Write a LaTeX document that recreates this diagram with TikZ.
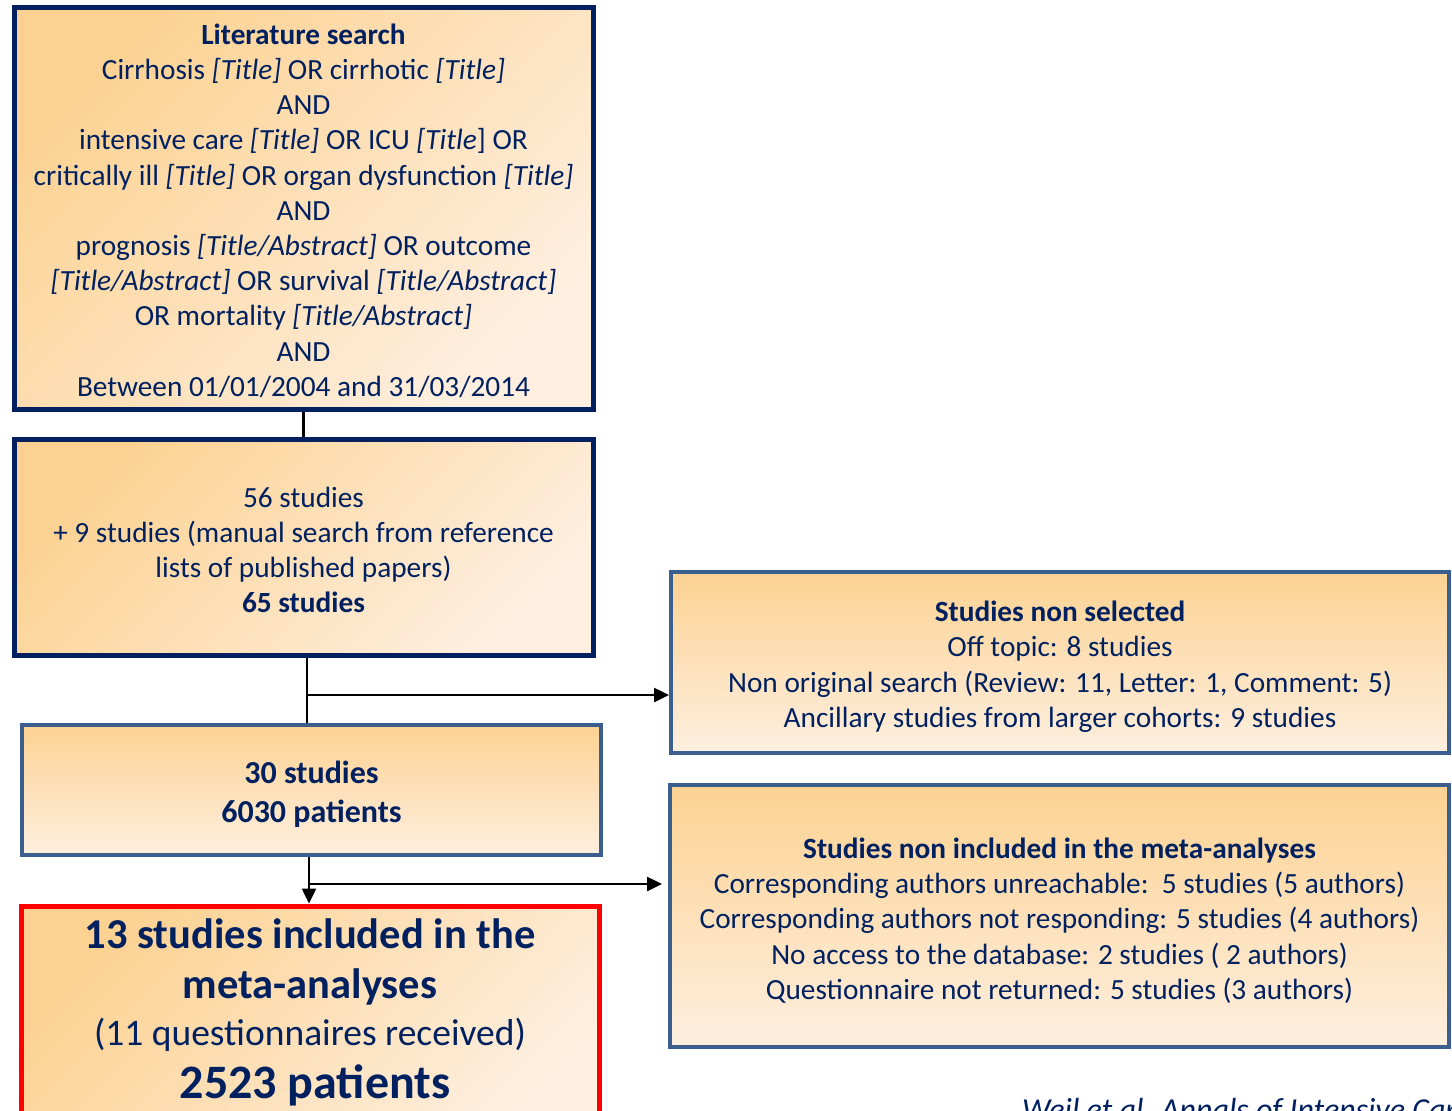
\documentclass[tikz,border=0pt]{standalone}
\usepackage{fontspec}
\setmainfont{Carlito}
\usetikzlibrary{arrows.meta}
\definecolor{navy}{HTML}{002060}
\definecolor{steel}{HTML}{3A5F8E}
\definecolor{orA}{HTML}{FCD292}
\definecolor{orB}{HTML}{FEEFE0}
\newcommand{\lowr}[1]{\rule{0pt}{#1}}
\begin{document}
\begin{tikzpicture}[x=1pt,y=-1pt,
  box/.style={draw, rectangle, inner sep=0pt, text=navy, align=center,
    font=\fontsize{29.3}{35.2}\selectfont, top color=orA, bottom color=orB},
  diag/.style={shading angle=45},
  navybox/.style={box, draw=navy, line width=5pt},
  steelbox/.style={box, draw=steel, line width=4pt},
  redbox/.style={box, draw=red, line width=5pt},
  bigtext/.style={text=navy, anchor=base, inner sep=0pt},
  conn/.style={draw=black, line width=2.5pt},
  arr/.style={conn, -{Triangle[length=15pt,width=14pt]}},
  foot/.style={text=navy, font=\fontsize{32}{36}\selectfont\itshape, inner sep=0pt}
]
\clip (0,0) rectangle (1452,1111);
\fill[white] (0,0) rectangle (1452,1111);

\node[navybox, diag, minimum width=579pt, minimum height=402pt] (b1) at (303.5,208) {%
\lowr{26pt}\textbf{Literature search}\\
Cirrhosis \textit{[Title]} OR cirrhotic \textit{[Title]}\\
AND\\
intensive care \textit{[Title]} OR ICU \textit{[Title}] OR\\
critically ill \textit{[Title]} OR organ dysfunction \textit{[Title]}\\
AND\\
prognosis \textit{[Title/Abstract]} OR outcome\\
\textit{[Title/Abstract]} OR survival \textit{[Title/Abstract]}\\
OR mortality \textit{[Title/Abstract]}\\
AND\\
Between 01/01/2004 and 31/03/2014};

\node[navybox, diag, minimum width=579pt, minimum height=216pt] (b2) at (303.5,547) {%
\lowr{26pt}56 studies\\
+ 9 studies (manual search from reference\\
lists of published papers)\\
\textbf{65 studies}};

\node[steelbox, font=\fontsize{32}{39}\selectfont\bfseries, minimum width=579pt, minimum height=130pt] (b3) at (311.5,790) {%
\lowr{31pt}30 studies\\
6030 patients};

\node[redbox, diag, minimum width=578pt, minimum height=240pt] (b4) at (310,1026) {};
\node[bigtext, font=\fontsize{42.5}{44}\selectfont\bfseries] (t1) at (310,948) {13 studies included in the};
\node[bigtext, font=\fontsize{42.5}{44}\selectfont\bfseries] (t2) at (310,998) {meta-analyses};
\node[bigtext, font=\fontsize{37.5}{40}\selectfont] (t3) at (310,1045) {(11 questionnaires received)};
\node[bigtext, font=\fontsize{48}{50}\selectfont\bfseries] (t4) at (315,1098) {2523 patients};

\node[steelbox, minimum width=778pt, minimum height=181pt] (b5) at (1060,662.5) {%
\lowr{29pt}\textbf{Studies non selected}\\
Off topic: 8 studies\\
Non original search (Review: 11, Letter: 1, Comment: 5)\\
Ancillary studies from larger cohorts: 9 studies};

\node[steelbox, minimum width=779pt, minimum height=262pt] (b6) at (1059.5,916) {%
\lowr{30pt}\textbf{Studies non included in the meta-analyses}\\
Corresponding authors unreachable:\ \ 5 studies (5 authors)\\
Corresponding authors not responding: 5 studies (4 authors)\\
No access to the database: 2 studies ( 2 authors)\\
Questionnaire not returned: 5 studies (3 authors)};

\node[foot, anchor=base west] (ft) at (1022,1120) {Weil et al. Annals of Intensive Care};

\coordinate (j1) at (307,695);
\coordinate (j2) at (309,884);
\coordinate (e2) at (662,884);

\draw[conn] (b1.south) -- (b2.north);
\draw[conn] (b2.south -| j1) -- (b3.north -| j1);
\draw[arr] (j1) -- (b5.west |- j1);
\draw[arr] (b3.south -| j2) -- (b4.north -| j2);
\draw[arr] (j2) -- (e2);
\end{tikzpicture}
\end{document}
